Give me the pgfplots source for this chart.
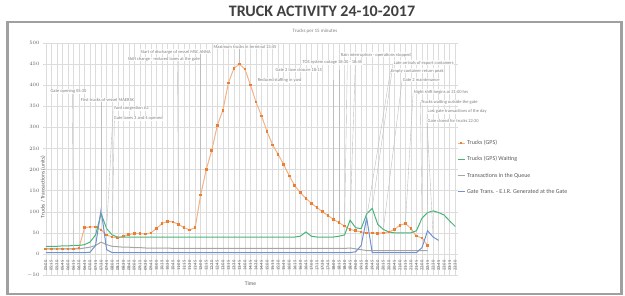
\documentclass[border=0pt]{standalone}
\usepackage{fontspec}
\setmainfont{Carlito}
\usepackage{pgfplots}
\usepackage{pgfplotstable}
\pgfplotsset{compat=1.18}
\definecolor{corange}{RGB}{237,125,49}
\definecolor{cgreen}{RGB}{72,180,120}
\definecolor{cgray}{RGB}{165,165,165}
\definecolor{cblue}{RGB}{112,146,206}
\definecolor{framegray}{RGB}{160,160,160}
\definecolor{titlegray}{RGB}{64,64,64}
\definecolor{labelgray}{RGB}{89,89,89}
\definecolor{callgray}{RGB}{128,128,128}
\definecolor{leadgray}{RGB}{190,190,190}
\definecolor{gridgray}{RGB}{220,220,220}

\pgfplotstableread{
i tr tw tq gt
0 12 18 12 3
1 12 18 12 3
2 12 18 12 3
3 12 19 12 3
4 12 19 12 3
5 12 20 12 3
6 14 20 12 3
7 62 22 14 3
8 64 28 16 4
9 64 45 20 20
10 57 95 28 105
11 45 60 22 10
12 40 45 18 3
13 38 40 17 3
14 42 40 16 3
15 46 40 16 3
16 48 40 15 3
17 48 40 15 3
18 47 40 14 3
19 50 40 14 3
20 60 40 14 3
21 72 40 14 3
22 77 40 14 3
23 76 40 13 3
24 70 40 13 3
25 62 40 13 3
26 57 40 13 3
27 62 40 13 3
28 140 40 13 3
29 200 40 13 3
30 245 40 13 3
31 305 40 13 3
32 340 40 13 3
33 405 40 13 3
34 440 40 13 3
35 450 40 13 3
36 438 40 13 3
37 400 40 13 3
38 360 40 13 3
39 327 40 13 3
40 290 40 13 3
41 258 40 13 3
42 236 40 13 3
43 212 40 13 3
44 185 40 13 3
45 162 40 13 3
46 145 42 13 3
47 132 52 13 3
48 120 42 13 3
49 110 40 13 3
50 100 40 13 3
51 91 40 13 3
52 82 40 13 3
53 74 42 13 3
54 66 45 13 3
55 58 80 14 3
56 55 62 12 5
57 52 60 10 20
58 50 95 8 85
59 50 108 8 3
60 49 70 8 3
61 50 58 8 3
62 52 52 8 3
63 58 50 8 3
64 68 50 8 3
65 72 50 8 3
66 60 50 8 3
67 42 55 8 3
68 38 85 8 15
69 20 98 8 55
70 nan 102 nan 40
71 nan 98 nan 32
72 nan 92 nan nan
73 nan 78 nan nan
74 nan 65 nan nan
}\datatable

\newcommand{\callout}[6]{%
  \draw[leadgray, line width=0.4pt] (axis cs:#3,#2) -- (axis cs:#4,#5);
  \node[anchor=west, inner sep=0.5pt, font=\fontsize{4.5}{5}\selectfont, text=callgray, fill=white, fill opacity=0.85, text opacity=1] at (axis cs:#1,#2) {#6};%
}

\begin{document}
\begin{tikzpicture}
\useasboundingbox (0pt,0pt) rectangle (625pt,-296pt);
\draw[framegray, line width=2.5pt] (7.5pt,-22pt) rectangle (621.5pt,-294pt);
\node[font=\bfseries\fontsize{16}{17}\selectfont, text=titlegray] at (322pt,-11pt) {TRUCK ACTIVITY 24-10-2017};
\node[font=\fontsize{5}{6}\selectfont, text=callgray] at (315pt,-31.5pt) {Trucks per 15 minutes};
\begin{axis}[
  at={(43pt,-275pt)}, anchor=south west,
  scale only axis, width=415pt, height=232pt,
  xmin=-0.5, xmax=74.5, ymin=-50, ymax=500,
  clip=false,
  unbounded coords=jump,
  axis line style={draw=none},
  tick style={draw=none},
  ytick={-50,0,50,100,150,200,250,300,350,400,450,500},
  yticklabel style={font=\fontsize{5}{6}\selectfont, text=labelgray},
  xtick={0,...,74},
  xticklabels={05:00,05:15,05:30,05:45,06:00,06:15,06:30,06:45,07:00,07:15,07:30,07:45,08:00,08:15,08:30,08:45,09:00,09:15,09:30,09:45,10:00,10:15,10:30,10:45,11:00,11:15,11:30,11:45,12:00,12:15,12:30,12:45,13:00,13:15,13:30,13:45,14:00,14:15,14:30,14:45,15:00,15:15,15:30,15:45,16:00,16:15,16:30,16:45,17:00,17:15,17:30,17:45,18:00,18:15,18:30,18:45,19:00,19:15,19:30,19:45,20:00,20:15,20:30,20:45,21:00,21:15,21:30,21:45,22:00,22:15,22:30,22:45,23:00,23:15,23:30},
  xticklabel style={yshift=18pt, rotate=90, anchor=east, font=\fontsize{4.5}{5}\selectfont, text=labelgray},
  xmajorgrids, ymajorgrids,
  major grid style={gridgray, line width=0.4pt},
  xlabel={Time},
  every axis x label/.style={at={(axis description cs:0.5,0)}, anchor=north, yshift=-3pt, font=\fontsize{5.5}{6}\selectfont, text=labelgray},
  ylabel={Trucks / Transactions (units)},
  every axis y label/.style={at={(axis description cs:0,0.5)}, rotate=90, anchor=center, xshift=-28pt, font=\fontsize{5.5}{6}\selectfont, text=labelgray},
  legend style={at={(0.995,0.595)}, anchor=north west, draw=none, fill=none, font=\fontsize{6}{7}\selectfont, text=labelgray, row sep=6.5pt, inner sep=1pt},
  legend cell align=left,
  legend image code/.code={\draw[#1, mark repeat=2, mark phase=2] plot coordinates {(0pt,0pt) (3.5pt,0pt) (7pt,0pt)};},
]
\addplot[corange!60, line width=1pt, mark=square*, mark size=0.8pt, mark options={fill=corange, draw=corange}] table[x=i, y=tr]{\datatable};
\addlegendentry{Trucks (GPS)}
\addplot[cgreen, line width=1pt] table[x=i, y=tw]{\datatable};
\addlegendentry{Trucks (GPS) Waiting}
\addplot[cgray, line width=1pt] table[x=i, y=tq]{\datatable};
\addlegendentry{Transactions in the Queue}
\addplot[cblue, line width=1pt] table[x=i, y=gt]{\datatable};
\addlegendentry{Gate Trans. - E.I.R. Generated at the Gate}

\callout{0.75}{386}{4.8}{5}{14}{Gate opening 05:30}
\callout{6.2}{365}{10}{10}{97}{First trucks of vessel MAERSK}
\callout{12.2}{344}{12.2}{11}{60}{Yard congestion A3}
\callout{12.2}{322}{12.4}{12}{45}{Gate lanes 3 and 4 opened}
\callout{14.7}{462}{23.8}{24}{72}{Shift change - reduced lanes at the gate}
\callout{17}{479}{28}{28}{142}{Start of discharge of vessel MSC ANNA}
\callout{30.2}{490}{35}{35}{452}{Maximum trucks in terminal 13:45}
\callout{53.2}{472}{56}{55}{82}{Rain interruption - operations stopped}
\callout{46.3}{453}{54.5}{54}{68}{TOS system outage 18:30 - 18:45}
\callout{41.4}{436}{53}{53}{76}{Gate 2 lane closure 18:15}
\callout{38.2}{412}{52}{52}{84}{Reduced staffing in yard}
\callout{62.8}{453}{62.8}{59}{110}{Late arrivals of export containers}
\callout{62.3}{434}{62.3}{58}{87}{Empty container return peak}
\callout{64.4}{412}{64.4}{61}{58}{Gate 2 maintenance}
\callout{66.4}{384}{66.4}{65}{74}{Night shift begins at 21:00 hrs}
\callout{67.7}{360}{67.7}{68}{87}{Trucks waiting outside the gate}
\callout{68.9}{337}{68.9}{69}{57}{Last gate transactions of the day}
\callout{68.9}{315}{68.9}{70}{42}{Gate closed for trucks 22:30}
\end{axis}
\end{tikzpicture}
\end{document}
